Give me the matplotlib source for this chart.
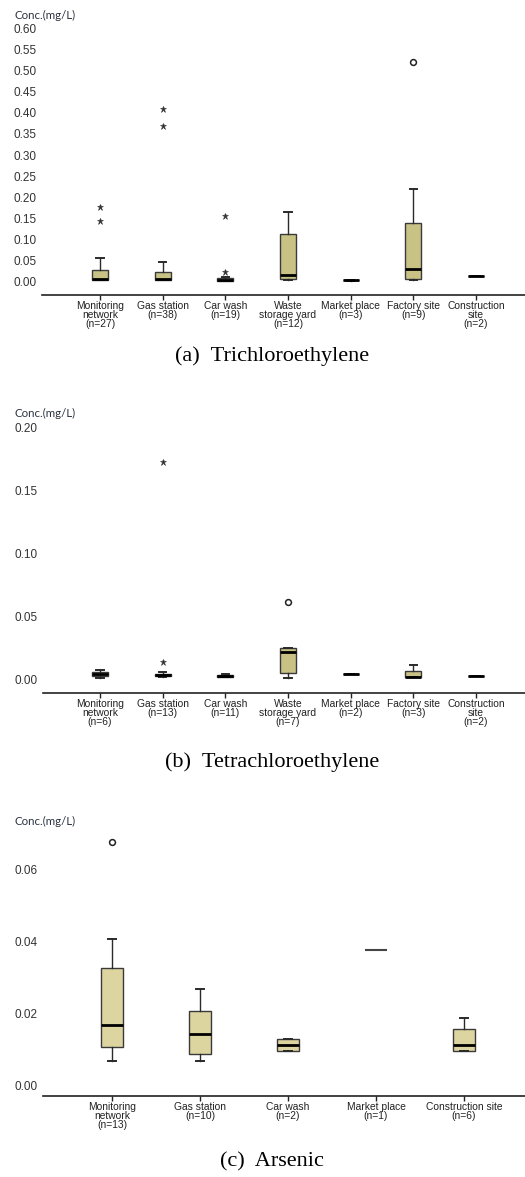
import matplotlib
matplotlib.use("Agg")
import matplotlib.pyplot as plt

W, H = 525, 1177
DPI = 100

# ---------------- data ----------------
cats_a = ["Monitoring\nnetwork\n(n=27)", "Gas station\n(n=38)", "Car wash\n(n=19)",
          "Waste\nstorage yard\n(n=12)", "Market place\n(n=3)", "Factory site\n(n=9)",
          "Construction\nsite\n(n=2)"]
whislo_a = [0.003, 0.003, 0.0017, 0.004, 0.002, 0.004, 0.0135]
q1_a = [0.005, 0.004, 0.0025, 0.006, 0.003, 0.006, 0.0135]
med_a = [0.007, 0.007, 0.005, 0.016, 0.004, 0.031, 0.0135]
q3_a = [0.028, 0.022, 0.0085, 0.112, 0.005, 0.138, 0.0135]
whishi_a = [0.057, 0.047, 0.012, 0.164, 0.005, 0.220, 0.0135]
fliers_a = [[0.144, 0.178], [0.369, 0.409], [0.024, 0.156], [], [], [0.521], []]
fmark_a = ["*", "*", "*", "", "", "o", ""]
yticks_a = [0.00, 0.05, 0.10, 0.15, 0.20, 0.25, 0.30, 0.35, 0.40, 0.45, 0.50, 0.55, 0.60]

cats_b = ["Monitoring\nnetwork\n(n=6)", "Gas station\n(n=13)", "Car wash\n(n=11)",
          "Waste\nstorage yard\n(n=7)", "Market place\n(n=2)", "Factory site\n(n=3)",
          "Construction\nsite\n(n=2)"]
whislo_b = [0.0018, 0.0025, 0.002, 0.0018, 0.0047, 0.0021, 0.0032]
q1_b = [0.0032, 0.003, 0.0025, 0.0058, 0.0047, 0.0021, 0.0032]
med_b = [0.005, 0.004, 0.003, 0.0219, 0.0047, 0.0025, 0.0032]
q3_b = [0.0066, 0.005, 0.004, 0.025, 0.0047, 0.0074, 0.0032]
whishi_b = [0.0079, 0.006, 0.005, 0.0256, 0.0047, 0.0119, 0.0032]
fliers_b = [[], [0.014, 0.1727], [], [0.062], [], [], []]
fmark_b = ["", "*", "", "o", "", "", ""]
yticks_b = [0.00, 0.05, 0.10, 0.15, 0.20]

cats_c = ["Monitoring\nnetwork\n(n=13)", "Gas station\n(n=10)", "Car wash\n(n=2)",
          "Market place\n(n=1)", "Construction site\n(n=6)"]
whislo_c = [0.0067, 0.0067, 0.0095, 0.0376, 0.0095]
q1_c = [0.0105, 0.0086, 0.0095, 0.0376, 0.0095]
med_c = [0.0166, 0.0141, 0.0111, 0.0376, 0.0111]
q3_c = [0.0326, 0.0206, 0.0127, 0.0376, 0.0156]
whishi_c = [0.0406, 0.0266, 0.0127, 0.0376, 0.0185]
fliers_c = [[0.0676], [], [], [], []]
fmark_c = ["o", "", "", "", ""]
yticks_c = [0.00, 0.02, 0.04, 0.06]

titles = ["(a)  Trichloroethylene", "(b)  Tetrachloroethylene", "(c)  Arsenic"]

# ---------------- figure ----------------
fig = plt.figure(figsize=(W / DPI, H / DPI), dpi=DPI)
fig.patch.set_facecolor("white")


def add_ax(x0, x1, ytop, ybot):
    return fig.add_axes([x0 / W, 1 - ybot / H, (x1 - x0) / W, (ybot - ytop) / H])


def panel(ax, cats, wlo, q1, med, q3, whi, fl, fm, yticks, ylim, xlim,
          fill, boxw, capw, yfmt):
    stats = []
    for i in range(len(cats)):
        stats.append(dict(whislo=wlo[i], q1=q1[i], med=med[i], q3=q3[i],
                          whishi=whi[i], fliers=fl[i]))
    pos = list(range(len(cats)))
    bp = ax.bxp(stats, positions=pos, widths=boxw, capwidths=capw,
                patch_artist=True, showfliers=True,
                boxprops=dict(facecolor=fill, edgecolor="#3a3a3a", linewidth=1.0),
                medianprops=dict(color="black", linewidth=2.0),
                whiskerprops=dict(color="#2a2a2a", linewidth=1.0),
                capprops=dict(color="#2a2a2a", linewidth=1.4),
                flierprops=dict(marker="*", markersize=5, color="black",
                                markerfacecolor="black", markeredgecolor="black"))
    for line, m in zip(bp["fliers"], fm):
        if m == "o":
            line.set_marker("o")
            line.set_markerfacecolor("none")
            line.set_markeredgecolor("#222222")
            line.set_markersize(4.2)
            line.set_markeredgewidth(1.1)
        elif m == "*":
            line.set_marker("*")
            line.set_markersize(4.6)
            line.set_markerfacecolor("#333333")
            line.set_markeredgecolor("#333333")
            line.set_markeredgewidth(0.4)
    for a in bp["fliers"] + bp["medians"] + bp["boxes"] + bp["whiskers"] + bp["caps"]:
        a.set_clip_on(False)
    ax.set_xlim(*xlim)
    ax.set_ylim(*ylim)
    ax.set_xticks(pos)
    ax.set_xticklabels(cats, fontsize=7.4, family="Liberation Sans",
                       linespacing=0.88, color="#222222")
    ax.set_yticks(yticks)
    ax.set_yticklabels([yfmt.format(v) for v in yticks], fontsize=8.5,
                       family="Liberation Sans", color="#333333")
    ax.tick_params(axis="y", length=0, pad=4.0)
    ax.tick_params(axis="x", length=3.5, width=1.0, pad=0.8, direction="out",
                   color="#222222")
    for s in ["top", "right", "left"]:
        ax.spines[s].set_visible(False)
    ax.spines["bottom"].set_linewidth(1.2)
    ax.spines["bottom"].set_color("#222222")
    ax.set_facecolor("none")
    return bp


# Panel (a): ticks at x=100 + 62.67*i ; 0.00 at y=281.7 ; 422.3 px per unit
sp_a = 62.67
ax_a = add_ax(42, 525, 20, 295)
panel(ax_a, cats_a, whislo_a, q1_a, med_a, q3_a, whishi_a, fliers_a, fmark_a,
      yticks_a, ((281.7 - 295) / 422.3, (281.7 - 20) / 422.3),
      ((42 - 100) / sp_a, (525 - 100) / sp_a), "#c9c285", 0.26, 0.12, "{:.2f}")

# Panel (b): 0.00 at y=680 ; 1264 px per unit
ax_b = add_ax(43, 525, 420, 692.7)
panel(ax_b, cats_b, whislo_b, q1_b, med_b, q3_b, whishi_b, fliers_b, fmark_b,
      yticks_b, ((680 - 692.7) / 1264.0, (680 - 420) / 1264.0),
      ((43 - 100) / sp_a, (525 - 100) / sp_a), "#c9c285", 0.26, 0.12, "{:.2f}")

# Panel (c): ticks at x=112 + 88*i ; 0.00 at y=1085 ; 3600 px per unit
sp_c = 88.0
ax_c = add_ax(43, 525, 830, 1096)
bp_c = panel(ax_c, cats_c, whislo_c, q1_c, med_c, q3_c, whishi_c, fliers_c, fmark_c,
             yticks_c, ((1085 - 1096) / 3600.0, (1085 - 830) / 3600.0),
             ((43 - 112) / sp_c, (525 - 112) / sp_c), "#ddd5a0", 0.26, 0.09, "{:.2f}")
# single-sample box drawn as a thin gray line
bp_c["medians"][3].set_linewidth(1.5)
bp_c["medians"][3].set_color("#444444")
bp_c["boxes"][3].set_linewidth(0)

# axis-title labels
for y in [15, 413, 821]:
    fig.text(14 / W, 1 - y / H, "Conc.(mg/L)", fontsize=8.3, family="Lato",
             color="#2b3440", ha="left", va="center")

# panel captions
for t, y in zip(titles, [356, 762, 1162]):
    fig.text(272 / W, 1 - y / H, t, fontsize=16, family="Liberation Serif",
             color="black", ha="center", va="center")

fig.savefig("out.png", dpi=DPI, facecolor="white")
